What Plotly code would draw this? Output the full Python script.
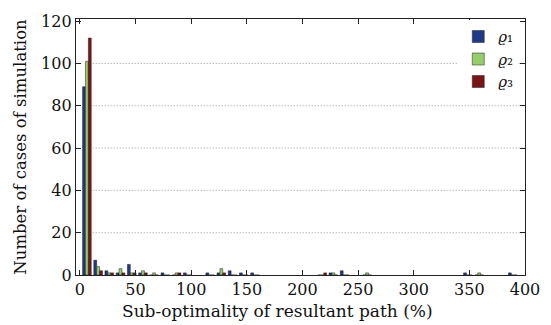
import plotly.graph_objects as go

# bin centres (% sub-optimality) of the histogram groups that hold any case
bin_centers = [6.3, 16.4, 26.4, 36.5, 46.6, 56.7, 66.7, 76.8, 86.9, 96.9,
               117.1, 127.1, 137.2, 147.3, 157.4, 217.8, 227.8, 237.9,
               258.1, 348.7, 358.8, 389.0]
rho1 = [89, 7, 2, 1, 5, 1, 0, 1, 0, 1, 1, 1, 2, 1, 1, 0, 1, 2, 0, 1, 0, 1]
rho2 = [101, 4, 1, 3, 1, 2, 1, 0, 1, 0, 0, 3, 0, 0, 0, 0, 1, 0, 1, 0, 1, 0]
rho3 = [112, 2, 1, 1, 1, 1, 0, 0, 1, 0, 0, 1, 0, 0, 0, 1, 0, 0, 0, 0, 0, 0]

series_names = ["<i>ϱ</i>₁", "<i>ϱ</i>₂", "<i>ϱ</i>₃"]
colors = ["#1f3a85", "#96cd6b", "#7a1515"]
x_ticks = [0, 50, 100, 150, 200, 250, 300, 350, 400]
y_ticks = [0, 20, 40, 60, 80, 100, 120]
x_title = "Sub-optimality of resultant path (%)"
y_title = "Number of cases of simulation"

FONT = "'DejaVu Serif', serif"
bw = 2.6
offsets = [-1.5 * bw, -0.5 * bw, 0.5 * bw]

fig = go.Figure()
for vals, name, col, off in zip([rho1, rho2, rho3], series_names, colors, offsets):
    fig.add_trace(go.Bar(
        x=bin_centers, y=vals, name=name, width=bw, offset=off,
        marker=dict(color=col, line=dict(color="#202020", width=0.5)),
    ))

# dotted horizontal grid lines
for yv in y_ticks[1:-1]:
    fig.add_shape(type="line", xref="x", yref="y", x0=11.5, x1=400, y0=yv, y1=yv,
                  line=dict(color="#9a9a9a", width=1, dash="1px,2px"), layer="below")

# x-axis title (placed slightly left of centre, as in the reference)
fig.add_annotation(text=x_title, xref="paper", yref="paper", x=0.448, y=-0.14,
                   xanchor="center", yanchor="middle", showarrow=False,
                   font=dict(family=FONT, size=17, color="#111111"))

fig.update_layout(
    width=551, height=325,
    margin=dict(l=76, r=26, t=19, b=50),
    barmode="overlay",
    plot_bgcolor="white", paper_bgcolor="white",
    font=dict(family=FONT, size=16, color="#111111"),
    showlegend=True,
    legend=dict(x=0.985, xanchor="right", y=0.995, yanchor="top",
                bgcolor="white", borderwidth=0,
                font=dict(family=FONT, size=15),
                itemwidth=30, tracegroupgap=0),
    xaxis=dict(range=[-3.5, 400], tickmode="array", tickvals=x_ticks,
               ticks="inside", ticklen=5, tickcolor="#222", showgrid=False,
               showline=True, linecolor="#222", linewidth=1.3, mirror="ticks",
               zeroline=False,
               tickfont=dict(family=FONT, size=16)),
    yaxis=dict(range=[0, 121], tickmode="array", tickvals=y_ticks,
               ticks="inside", ticklen=5, tickcolor="#222", showgrid=False,
               showline=True, linecolor="#222", linewidth=1.3, mirror="ticks",
               zeroline=False,
               title=dict(text=y_title, standoff=10,
                          font=dict(family=FONT, size=16.5)),
               tickfont=dict(family=FONT, size=16)),
)

fig.write_html("out.html")
